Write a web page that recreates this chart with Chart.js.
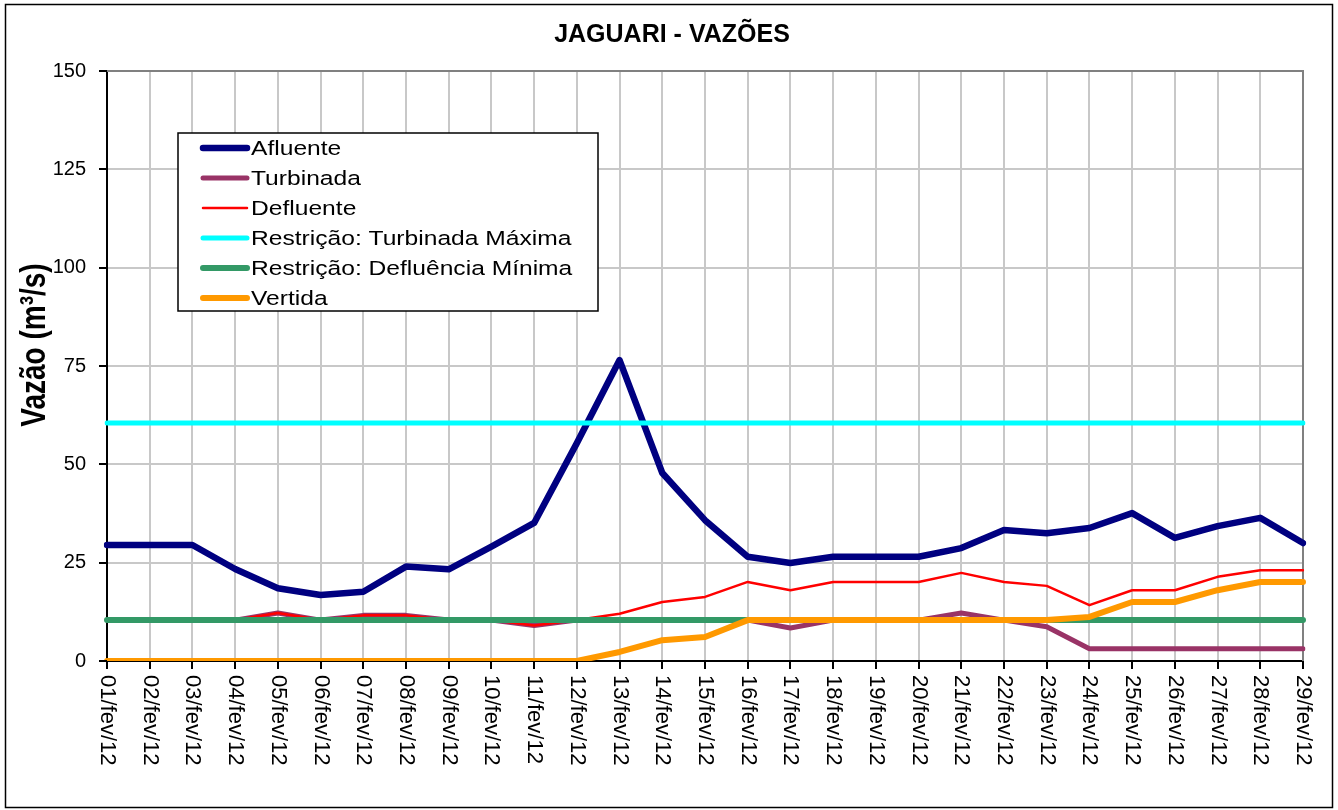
<!DOCTYPE html>
<html>
<head>
<meta charset="utf-8">
<title>Jaguari - Vazões</title>
<script src="https://cdn.jsdelivr.net/npm/chart.js@4/dist/chart.umd.min.js"></script>
<style>
  html, body { margin: 0; padding: 0; background: #fff; }
  canvas { display: block; }
</style>
</head>
<body>
<canvas id="grafico" width="1338" height="810"></canvas>
<script>
// dados (m3/s)
const dias = ['01/fev/12','02/fev/12','03/fev/12','04/fev/12','05/fev/12','06/fev/12','07/fev/12',
  '08/fev/12','09/fev/12','10/fev/12','11/fev/12','12/fev/12','13/fev/12','14/fev/12','15/fev/12',
  '16/fev/12','17/fev/12','18/fev/12','19/fev/12','20/fev/12','21/fev/12','22/fev/12','23/fev/12',
  '24/fev/12','25/fev/12','26/fev/12','27/fev/12','28/fev/12','29/fev/12'];

const afluente = [29.5, 29.5, 29.5, 23.4, 18.5, 16.8, 17.6, 24.0, 23.3, 29.1, 35.1, 55.4, 76.5, 47.8, 35.8,
  26.5, 24.9, 26.5, 26.5, 26.5, 28.7, 33.3, 32.5, 33.8, 37.6, 31.3, 34.3, 36.4, 30.0];
const turbinada = [10.4, 10.4, 10.4, 10.4, 12.2, 10.4, 11.6, 11.6, 10.4, 10.4, 9.0, 10.4, 10.4, 10.4, 10.4,
  10.4, 8.4, 10.4, 10.4, 10.4, 12.2, 10.4, 8.7, 3.1, 3.1, 3.1, 3.1, 3.1, 3.1];
const defluente = [10.4, 10.4, 10.4, 10.4, 12.2, 10.4, 11.6, 11.6, 10.4, 10.4, 9.0, 10.4, 12.0, 15.0, 16.3,
  20.1, 18.0, 20.1, 20.1, 20.1, 22.4, 20.1, 19.1, 14.2, 18.0, 18.0, 21.4, 23.1, 23.1];
const turbMaxima = [60.5, 60.5, 60.5, 60.5, 60.5, 60.5, 60.5, 60.5, 60.5, 60.5, 60.5, 60.5, 60.5, 60.5, 60.5,
  60.5, 60.5, 60.5, 60.5, 60.5, 60.5, 60.5, 60.5, 60.5, 60.5, 60.5, 60.5, 60.5, 60.5];
const deflMinima = [10.4, 10.4, 10.4, 10.4, 10.4, 10.4, 10.4, 10.4, 10.4, 10.4, 10.4, 10.4, 10.4, 10.4, 10.4,
  10.4, 10.4, 10.4, 10.4, 10.4, 10.4, 10.4, 10.4, 10.4, 10.4, 10.4, 10.4, 10.4, 10.4];
const vertida = [0, 0, 0, 0, 0, 0, 0, 0, 0, 0, 0, 0, 2.3, 5.3, 6.1,
  10.4, 10.4, 10.4, 10.4, 10.4, 10.4, 10.4, 10.4, 11.2, 15.0, 15.0, 18.0, 20.1, 20.1];

const yTicks = [0, 25, 50, 75, 100, 125, 150];
const titulo = 'JAGUARI - VAZÕES';
const tituloY = 'Vazão (m³/s)';

const FONTE = '"Liberation Sans", Arial, sans-serif';

function serie(label, data, cor, largura, ordem) {
  return {
    label: label, data: data, borderColor: cor, backgroundColor: cor,
    borderWidth: largura, pointRadius: 0, tension: 0, fill: false,
    borderCapStyle: 'round', borderJoinStyle: 'round', order: ordem
  };
}

// titulo, eixo, rotulos verticais e legenda desenhados a mao
const enfeites = {
  id: 'enfeites',
  beforeDraw(chart) {
    const c = chart.ctx;
    c.save();
    c.fillStyle = '#fff';
    c.fillRect(0, 0, chart.width, chart.height);
    c.restore();
  },
  beforeDatasetsDraw(chart) {
    const c = chart.ctx, a = chart.chartArea;
    c.save();
    c.strokeStyle = '#808080';
    c.lineWidth = 2;
    c.beginPath();
    c.moveTo(a.left, a.top);
    c.lineTo(a.right, a.top);
    c.lineTo(a.right, a.bottom);
    c.stroke();
    c.restore();
  },
  afterDraw(chart) {
    const c = chart.ctx, a = chart.chartArea;
    const xs = chart.scales.x, ys = chart.scales.y;
    c.save();

    // moldura externa
    c.strokeStyle = '#000';
    c.lineWidth = 1.5;
    c.strokeRect(5.5, 4.5, 1327, 803);

    // titulo
    c.fillStyle = '#000';
    c.font = 'bold 25px ' + FONTE;
    c.textAlign = 'center';
    c.textBaseline = 'alphabetic';
    c.fillText(titulo, 672, 42);

    // titulo do eixo y
    c.save();
    c.translate(45, 345);
    c.rotate(-Math.PI / 2);
    c.scale(1, 1.25);
    c.font = 'bold 28px ' + FONTE;
    c.textAlign = 'center';
    c.fillText(tituloY, 0, 0);
    c.restore();

    // marcas dos eixos
    c.strokeStyle = '#000';
    c.lineWidth = 2;
    c.beginPath();
    yTicks.forEach(v => {
      const y = Math.round(ys.getPixelForValue(v));
      c.moveTo(a.left - 8, y);
      c.lineTo(a.left, y);
    });
    dias.forEach((d, i) => {
      const x = Math.round(xs.getPixelForValue(i));
      c.moveTo(x, a.bottom);
      c.lineTo(x, a.bottom + 8);
    });
    c.stroke();

    // rotulos do eixo x, lidos de cima para baixo
    c.font = '22px ' + FONTE;
    c.textAlign = 'left';
    c.textBaseline = 'middle';
    dias.forEach((d, i) => {
      const x = xs.getPixelForValue(i);
      c.save();
      c.translate(x, a.bottom + 14);
      c.rotate(Math.PI / 2);
      c.fillText(d, 0, 0);
      c.restore();
    });

    // legenda
    c.fillStyle = '#fff';
    c.fillRect(178, 133, 420, 178);
    c.strokeStyle = '#000';
    c.lineWidth = 1.5;
    c.strokeRect(178, 133, 420, 178);
    chart.data.datasets.forEach((ds, i) => {
      const y = 148 + 30 * i;
      c.strokeStyle = ds.borderColor;
      c.lineWidth = ds.borderWidth;
      c.lineCap = 'round';
      c.beginPath();
      c.moveTo(203, y);
      c.lineTo(247, y);
      c.stroke();
      c.save();
      c.translate(251, y + 7);
      c.scale(1.2, 1);
      c.fillStyle = '#000';
      c.font = '20.5px ' + FONTE;
      c.textAlign = 'left';
      c.textBaseline = 'alphabetic';
      c.fillText(ds.label, 0, 0);
      c.restore();
    });

    c.restore();
  }
};

new Chart(document.getElementById('grafico'), {
  type: 'line',
  data: {
    labels: dias,
    datasets: [
      serie('Afluente', afluente, '#000080', 6.5, 6),
      serie('Turbinada', turbinada, '#993366', 5, 5),
      serie('Defluente', defluente, '#ff0000', 2.5, 4),
      serie('Restrição: Turbinada Máxima', turbMaxima, '#00ffff', 5, 3),
      serie('Restrição: Defluência Mínima', deflMinima, '#339966', 6, 2),
      serie('Vertida', vertida, '#ff9900', 6, 1)
    ]
  },
  options: {
    responsive: false,
    devicePixelRatio: 1,
    animation: false,
    layout: { padding: { top: 71, right: 35, bottom: 0, left: 0 } },
    plugins: {
      legend: { display: false },
      title: { display: false },
      tooltip: { enabled: false }
    },
    scales: {
      x: {
        offset: false,
        grid: { color: '#c8c8c8', lineWidth: 2, drawTicks: false },
        border: { color: '#000', width: 2 },
        ticks: { display: false },
        afterFit(s) { s.height = 149; }
      },
      y: {
        min: 0, max: 150,
        afterBuildTicks(s) { s.ticks = yTicks.map(v => ({ value: v })); },
        grid: { color: '#c8c8c8', lineWidth: 2, drawTicks: false },
        border: { color: '#000', width: 2 },
        ticks: {
          padding: 21, color: '#000',
          font: { family: FONTE, size: 20 }
        },
        afterFit(s) { s.width = 107; }
      }
    }
  },
  plugins: [enfeites]
});
</script>
</body>
</html>
